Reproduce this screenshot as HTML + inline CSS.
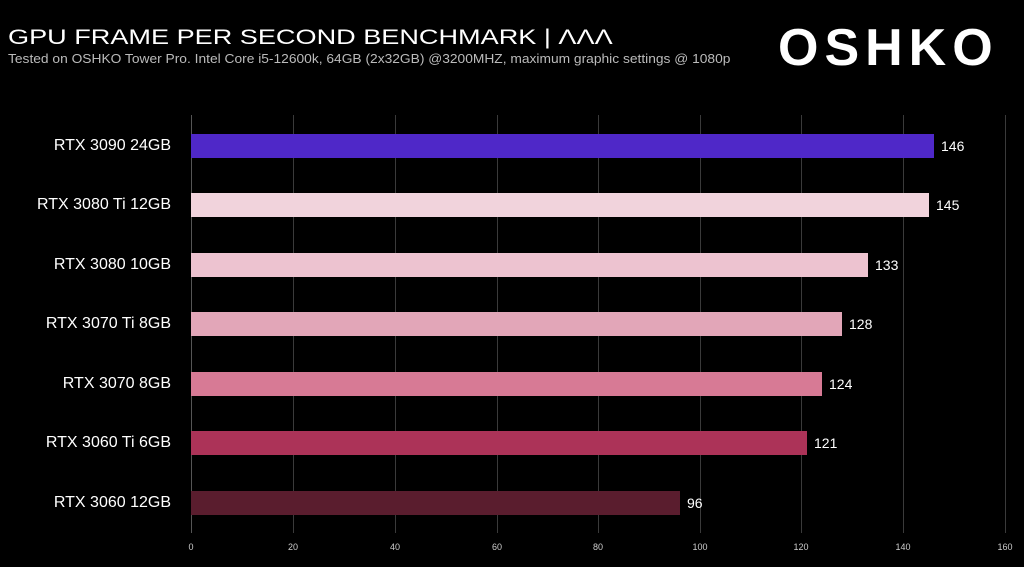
<!DOCTYPE html>
<html><head><style>
body{margin:0;background:#000;width:1024px;height:567px;overflow:hidden;position:relative;font-family:"Liberation Sans",sans-serif;color:#fff}
.t{position:absolute;left:8px;top:26px;font-size:21px;font-weight:normal;transform:scaleX(1.29);transform-origin:left;white-space:nowrap}
.s{position:absolute;left:8px;top:51px;font-size:13px;color:#bbb;transform:scaleX(1.06);transform-origin:left;white-space:nowrap}
.logo{position:absolute;left:778px;top:18px;font-size:52px;font-weight:bold;letter-spacing:6px}
.g{position:absolute;top:115px;height:418px;width:1px;background:#3a3a3a}
.bar{position:absolute;left:191px;height:24px}
.lab{position:absolute;right:853px;font-size:16px;text-align:right;white-space:nowrap}
.v{position:absolute;font-size:14px}
.x{position:absolute;top:542px;font-size:9px;color:#ccc;transform:translateX(-50%)}
</style></head><body>
<div class="t">GPU FRAME PER SECOND BENCHMARK | ΛΛΛ</div>
<div class="s">Tested on OSHKO Tower Pro. Intel Core i5-12600k, 64GB (2x32GB) @3200MHZ, maximum graphic settings @ 1080p</div>
<div class="logo">OSHKO</div>
<div class="g" style="left:191px;background:#555"></div><div class="g" style="left:293px"></div><div class="g" style="left:395px"></div><div class="g" style="left:497px"></div><div class="g" style="left:598px"></div><div class="g" style="left:700px"></div><div class="g" style="left:801px"></div><div class="g" style="left:903px"></div><div class="g" style="left:1005px"></div>
<div class="x" style="left:191px">0</div><div class="x" style="left:293px">20</div><div class="x" style="left:395px">40</div><div class="x" style="left:497px">60</div><div class="x" style="left:598px">80</div><div class="x" style="left:700px">100</div><div class="x" style="left:801px">120</div><div class="x" style="left:903px">140</div><div class="x" style="left:1005px">160</div>

<div class="bar" style="top:134px;width:743px;background:#4f28c8"></div><div class="lab" style="top:137px">RTX 3090 24GB</div><div class="v" style="left:941px;top:138px">146</div>
<div class="bar" style="top:193px;width:738px;background:#f1d3dc"></div><div class="lab" style="top:196px">RTX 3080 Ti 12GB</div><div class="v" style="left:936px;top:197px">145</div>
<div class="bar" style="top:253px;width:677px;background:#edc3d0"></div><div class="lab" style="top:256px">RTX 3080 10GB</div><div class="v" style="left:875px;top:257px">133</div>
<div class="bar" style="top:312px;width:651px;background:#e2a6b8"></div><div class="lab" style="top:315px">RTX 3070 Ti 8GB</div><div class="v" style="left:849px;top:316px">128</div>
<div class="bar" style="top:372px;width:631px;background:#d77a95"></div><div class="lab" style="top:375px">RTX 3070 8GB</div><div class="v" style="left:829px;top:376px">124</div>
<div class="bar" style="top:431px;width:616px;background:#ac3358"></div><div class="lab" style="top:434px">RTX 3060 Ti 6GB</div><div class="v" style="left:814px;top:435px">121</div>
<div class="bar" style="top:491px;width:489px;background:#5a1d2e"></div><div class="lab" style="top:494px">RTX 3060 12GB</div><div class="v" style="left:687px;top:495px">96</div>
</body></html>
